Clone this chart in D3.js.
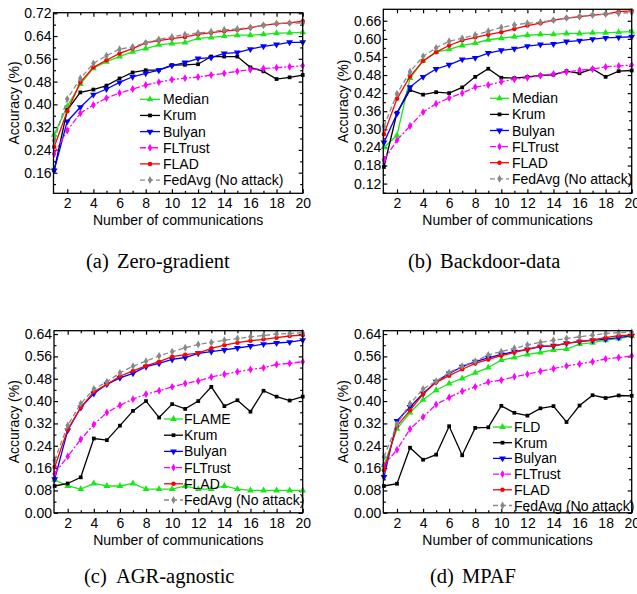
<!DOCTYPE html>
<html>
<head>
<meta charset="utf-8">
<script src="https://cdnjs.cloudflare.com/ajax/libs/d3/7.8.5/d3.min.js"></script>
<style>
  body { margin: 0; background: #fff; }
  svg text { font-family: "Liberation Sans", Arial, sans-serif; fill: #000; }
  .caption { font-family: "Liberation Serif", "Times New Roman", serif; font-size: 20.5px; }
</style>
</head>
<body>
<div id="chart"></div>
<script>
// x values (communication rounds)
const rounds = [1, 2, 3, 4, 5, 6, 7, 8, 9, 10, 11, 12, 13, 14, 15, 16, 17, 18, 19, 20];
const xTickLabels = [2, 4, 6, 8, 10, 12, 14, 16, 18, 20];

// (a) Zero-gradient
const namesA = ["Median", "Krum", "Bulyan", "FLTrust", "FLAD", "FedAvg (No attack)"];
const medianA = [0.293, 0.393, 0.471, 0.527, 0.55, 0.568, 0.585, 0.596, 0.609, 0.614, 0.617, 0.632, 0.635, 0.64, 0.643, 0.643, 0.646, 0.65, 0.651, 0.653];
const krumA = [0.168, 0.38, 0.442, 0.452, 0.466, 0.491, 0.512, 0.52, 0.52, 0.538, 0.539, 0.541, 0.568, 0.568, 0.568, 0.53, 0.516, 0.489, 0.495, 0.503];
const bulyanA = [0.168, 0.34, 0.39, 0.434, 0.454, 0.477, 0.497, 0.509, 0.52, 0.536, 0.547, 0.561, 0.564, 0.579, 0.582, 0.594, 0.604, 0.61, 0.618, 0.618];
const fltrustA = [0.226, 0.308, 0.369, 0.398, 0.422, 0.44, 0.454, 0.468, 0.478, 0.487, 0.492, 0.496, 0.503, 0.509, 0.516, 0.522, 0.526, 0.529, 0.532, 0.536];
const fladA = [0.25, 0.376, 0.477, 0.53, 0.555, 0.579, 0.596, 0.616, 0.624, 0.631, 0.637, 0.646, 0.652, 0.657, 0.662, 0.669, 0.678, 0.683, 0.686, 0.692];
const fedavgA = [0.273, 0.419, 0.491, 0.544, 0.571, 0.594, 0.602, 0.616, 0.628, 0.637, 0.645, 0.651, 0.655, 0.662, 0.665, 0.67, 0.678, 0.684, 0.686, 0.685];
const yTicksA = [0.16, 0.24, 0.32, 0.40, 0.48, 0.56, 0.64, 0.72];

// (b) Backdoor-data
const namesB = ["Median", "Krum", "Bulyan", "FLTrust", "FLAD", "FedAvg (No attack)"];
const medianB = [0.24, 0.28, 0.47, 0.527, 0.556, 0.565, 0.578, 0.586, 0.597, 0.602, 0.607, 0.612, 0.615, 0.615, 0.618, 0.618, 0.62, 0.62, 0.622, 0.624];
const krumB = [0.175, 0.355, 0.43, 0.415, 0.423, 0.42, 0.439, 0.474, 0.501, 0.471, 0.47, 0.474, 0.479, 0.481, 0.493, 0.486, 0.5, 0.474, 0.493, 0.495];
const bulyanB = [0.256, 0.352, 0.44, 0.474, 0.5, 0.514, 0.532, 0.537, 0.553, 0.562, 0.567, 0.576, 0.581, 0.583, 0.591, 0.594, 0.599, 0.603, 0.605, 0.607];
const fltrustB = [0.199, 0.264, 0.311, 0.357, 0.385, 0.404, 0.42, 0.44, 0.447, 0.458, 0.466, 0.471, 0.478, 0.484, 0.49, 0.496, 0.5, 0.507, 0.51, 0.513];
const fladB = [0.284, 0.401, 0.475, 0.527, 0.556, 0.578, 0.595, 0.605, 0.614, 0.622, 0.633, 0.644, 0.652, 0.662, 0.669, 0.674, 0.679, 0.682, 0.69, 0.693];
const fedavgB = [0.31, 0.418, 0.491, 0.542, 0.57, 0.592, 0.602, 0.613, 0.625, 0.638, 0.646, 0.652, 0.655, 0.662, 0.669, 0.673, 0.679, 0.682, 0.685, 0.687];
const yTicksB = [0.12, 0.18, 0.24, 0.30, 0.36, 0.42, 0.48, 0.54, 0.60, 0.66];

// (c) AGR-agnostic
const namesC = ["FLAME", "Krum", "Bulyan", "FLTrust", "FLAD", "FedAvg (No attack)"];
const flameC = [0.118, 0.096, 0.085, 0.105, 0.096, 0.096, 0.105, 0.085, 0.085, 0.085, 0.096, 0.085, 0.085, 0.096, 0.085, 0.08, 0.08, 0.08, 0.08, 0.08];
const krumC = [0.096, 0.105, 0.127, 0.266, 0.26, 0.312, 0.365, 0.4, 0.341, 0.389, 0.372, 0.4, 0.451, 0.382, 0.403, 0.362, 0.437, 0.416, 0.402, 0.416];
const bulyanC = [0.12, 0.295, 0.377, 0.427, 0.46, 0.483, 0.499, 0.523, 0.535, 0.549, 0.556, 0.571, 0.577, 0.583, 0.59, 0.597, 0.604, 0.608, 0.611, 0.618];
const fltrustC = [0.14, 0.202, 0.263, 0.316, 0.359, 0.385, 0.407, 0.425, 0.437, 0.451, 0.463, 0.472, 0.486, 0.496, 0.505, 0.513, 0.519, 0.531, 0.535, 0.541];
const fladC = [0.164, 0.298, 0.377, 0.433, 0.46, 0.489, 0.508, 0.526, 0.541, 0.559, 0.566, 0.572, 0.589, 0.6, 0.609, 0.616, 0.621, 0.627, 0.633, 0.636];
const fedavgC = [0.188, 0.313, 0.391, 0.443, 0.469, 0.501, 0.525, 0.543, 0.562, 0.577, 0.591, 0.603, 0.61, 0.618, 0.624, 0.63, 0.635, 0.64, 0.642, 0.645];
const yTicksC = [0.00, 0.08, 0.16, 0.24, 0.32, 0.40, 0.48, 0.56, 0.64];

// (d) MPAF
const namesD = ["FLD", "Krum", "Bulyan", "FLTrust", "FLAD", "FedAvg (No attack)"];
const fldD = [0.17, 0.301, 0.359, 0.405, 0.439, 0.463, 0.481, 0.501, 0.52, 0.547, 0.556, 0.567, 0.574, 0.583, 0.586, 0.604, 0.609, 0.618, 0.624, 0.633];
const krumD = [0.096, 0.104, 0.233, 0.19, 0.208, 0.31, 0.206, 0.304, 0.306, 0.383, 0.358, 0.348, 0.374, 0.382, 0.325, 0.384, 0.421, 0.411, 0.42, 0.419];
const bulyanD = [0.128, 0.329, 0.379, 0.427, 0.469, 0.499, 0.523, 0.541, 0.555, 0.567, 0.577, 0.585, 0.595, 0.598, 0.607, 0.613, 0.617, 0.622, 0.627, 0.634];
const fltrustD = [0.17, 0.226, 0.3, 0.343, 0.388, 0.413, 0.435, 0.451, 0.468, 0.475, 0.487, 0.496, 0.507, 0.516, 0.526, 0.533, 0.541, 0.551, 0.556, 0.562];
const fladD = [0.152, 0.311, 0.367, 0.425, 0.467, 0.491, 0.514, 0.535, 0.549, 0.563, 0.574, 0.585, 0.597, 0.598, 0.607, 0.614, 0.619, 0.627, 0.634, 0.636];
const fedavgD = [0.2, 0.317, 0.391, 0.443, 0.471, 0.502, 0.525, 0.543, 0.565, 0.577, 0.589, 0.601, 0.61, 0.618, 0.624, 0.63, 0.636, 0.642, 0.645, 0.647];
const yTicksD = yTicksC;

// line / marker style per series slot
const colors = ["#18e818", "#000000", "#0000ff", "#ff00ff", "#ff0000", "#888888"];
const symbols = [d3.symbolTriangle, d3.symbolSquare, d3.symbolTriangle, d3.symbolDiamond, d3.symbolCircle, d3.symbolDiamond];
const symRot = [0, 0, 180, 0, 0, 0];
const symSize = [20, 14, 20, 18, 16, 18];
const dashes = [null, null, null, "6,2,2,2", null, "5,3"];

const panels = [
  { names: namesA, series: [medianA, krumA, bulyanA, fltrustA, fladA, fedavgA], yTicks: yTicksA,
    left: 53.5, right: 302.7, top: 12.7, bottom: 193.3, ydom: [0.0876, 0.722],
    leg: { x0: 140, x1: 160, tx: 163, y0: 99.3, dy: 16.15 },
    cap: { lab: "(a)", name: "Zero-gradient", x: 86, nx: 117, y: 268 } },
  { names: namesB, series: [medianB, krumB, bulyanB, fltrustB, fladB, fedavgB], yTicks: yTicksB,
    left: 383.3, right: 631.7, top: 9.3, bottom: 193.3, ydom: [0.0878, 0.698],
    leg: { x0: 490, x1: 509, tx: 512, y0: 98.3, dy: 16.1 },
    cap: { lab: "(b)", name: "Backdoor-data", x: 408, nx: 440, y: 268 } },
  { names: namesC, series: [flameC, krumC, bulyanC, fltrustC, fladC, fedavgC], yTicks: yTicksC,
    left: 54, right: 302.7, top: 330.7, bottom: 512.8, ydom: [0, 0.652],
    leg: { x0: 164, x1: 183, tx: 184, y0: 419, dy: 16.2 },
    cap: { lab: "(c)", name: "AGR-agnostic", x: 84, nx: 116, y: 583 } },
  { names: namesD, series: [fldD, krumD, bulyanD, fltrustD, fladD, fedavgD], yTicks: yTicksD,
    left: 383.3, right: 631.7, top: 330.7, bottom: 512.8, ydom: [0, 0.652],
    leg: { x0: 493, x1: 512, tx: 514, y0: 427, dy: 15.7 },
    cap: { lab: "(d)", name: "MPAF", x: 430, nx: 462, y: 583 } }
];

const svg = d3.select("#chart").append("svg")
  .attr("width", 637)
  .attr("height", 594);

panels.forEach(p => {
  const x = d3.scaleLinear().domain([0.95, 20]).range([p.left, p.right]);
  const y = d3.scaleLinear().domain(p.ydom).range([p.bottom, p.top]);
  const g = svg.append("g");

  // minor ticks
  const step = p.yTicks[1] - p.yTicks[0];
  const yMinor = p.yTicks.map(v => v - step / 2).filter(v => v > p.ydom[0]);
  const xMinor = [3, 5, 7, 9, 11, 13, 15, 17, 19];

  const styleAxis = sel => {
    sel.select(".domain").remove();
    sel.selectAll("line").attr("stroke", "#000").attr("stroke-width", 1.2);
    sel.selectAll("text").style("font-size", "14px");
  };

  g.append("g").attr("transform", `translate(0,${p.bottom})`)
    .call(d3.axisBottom(x).tickValues(xTickLabels).tickSizeInner(-4).tickSizeOuter(0).tickPadding(5).tickFormat(d3.format("d")))
    .call(styleAxis);
  g.append("g").attr("transform", `translate(0,${p.bottom})`)
    .call(d3.axisBottom(x).tickValues(xMinor).tickSizeInner(-2.5).tickSizeOuter(0).tickFormat(""))
    .call(styleAxis);
  g.append("g").attr("transform", `translate(0,${p.top})`)
    .call(d3.axisTop(x).tickValues(xTickLabels).tickSizeInner(-4).tickSizeOuter(0).tickFormat(""))
    .call(styleAxis);
  g.append("g").attr("transform", `translate(0,${p.top})`)
    .call(d3.axisTop(x).tickValues(xMinor).tickSizeInner(-2.5).tickSizeOuter(0).tickFormat(""))
    .call(styleAxis);

  g.append("g").attr("transform", `translate(${p.left},0)`)
    .call(d3.axisLeft(y).tickValues(p.yTicks).tickSizeInner(-4).tickSizeOuter(0).tickPadding(2).tickFormat(d3.format(".2f")))
    .call(styleAxis);
  g.append("g").attr("transform", `translate(${p.left},0)`)
    .call(d3.axisLeft(y).tickValues(yMinor).tickSizeInner(-2.5).tickSizeOuter(0).tickFormat(""))
    .call(styleAxis);
  g.append("g").attr("transform", `translate(${p.right},0)`)
    .call(d3.axisRight(y).tickValues(p.yTicks).tickSizeInner(-4).tickSizeOuter(0).tickFormat(""))
    .call(styleAxis);
  g.append("g").attr("transform", `translate(${p.right},0)`)
    .call(d3.axisRight(y).tickValues(yMinor).tickSizeInner(-2.5).tickSizeOuter(0).tickFormat(""))
    .call(styleAxis);

  // series
  const line = d3.line().x((d, i) => x(rounds[i])).y(d => y(d));
  p.series.forEach((vals, k) => {
    g.append("path")
      .datum(vals)
      .attr("fill", "none")
      .attr("stroke", colors[k])
      .attr("stroke-width", 1.3)
      .attr("stroke-dasharray", dashes[k])
      .attr("d", line);
    g.selectAll(null)
      .data(vals)
      .join("path")
      .attr("d", d3.symbol(symbols[k], symSize[k]))
      .attr("transform", (d, i) => `translate(${x(rounds[i])},${y(d)}) rotate(${symRot[k]})`)
      .attr("fill", colors[k]);
  });

  // frame
  g.append("rect")
    .attr("x", p.left).attr("y", p.top)
    .attr("width", p.right - p.left).attr("height", p.bottom - p.top)
    .attr("fill", "none").attr("stroke", "#000").attr("stroke-width", 1.3);

  // axis titles
  g.append("text")
    .attr("x", (p.left + p.right) / 2).attr("y", p.bottom + 32)
    .attr("text-anchor", "middle").style("font-size", "14px")
    .text("Number of communications");
  g.append("text")
    .attr("transform", `translate(${p.left - 35},${(p.top + p.bottom) / 2}) rotate(-90)`)
    .attr("text-anchor", "middle").style("font-size", "14px")
    .text("Accuracy (%)");

  // legend
  const L = p.leg;
  p.names.forEach((nm, k) => {
    const ly = L.y0 + k * L.dy;
    g.append("line")
      .attr("x1", L.x0).attr("x2", L.x1).attr("y1", ly).attr("y2", ly)
      .attr("stroke", colors[k]).attr("stroke-width", 1.3)
      .attr("stroke-dasharray", dashes[k]);
    g.append("path")
      .attr("d", d3.symbol(symbols[k], symSize[k]))
      .attr("transform", `translate(${(L.x0 + L.x1) / 2},${ly}) rotate(${symRot[k]})`)
      .attr("fill", colors[k]);
    g.append("text")
      .attr("x", L.tx).attr("y", ly + 5)
      .style("font-size", "14px")
      .text(nm);
  });

  // caption
  g.append("text").attr("class", "caption").attr("x", p.cap.x).attr("y", p.cap.y).text(p.cap.lab);
  g.append("text").attr("class", "caption").attr("x", p.cap.nx).attr("y", p.cap.y).text(p.cap.name);
});
</script>
</body>
</html>
